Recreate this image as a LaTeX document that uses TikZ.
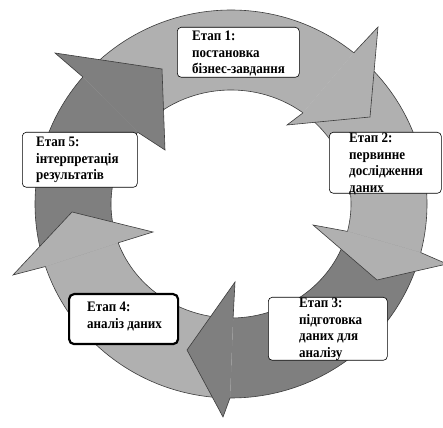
\documentclass[tikz,border=0pt]{standalone}
\usepackage{fontspec}
\setmainfont{Liberation Serif}
\newfontfamily\stagefont[FakeStretch=0.9]{Liberation Serif}
\definecolor{lightg}{RGB}{176,176,176}
\definecolor{darkg}{RGB}{127,127,127}
\definecolor{edgec}{RGB}{60,60,60}
\newcommand{\ringbody}[5]{%
  \fill[#1] (#2:196pt and 194pt) arc[start angle=#2, end angle=#3, x radius=196pt, y radius=194pt]
     -- (#5:120pt and 114pt) arc[start angle=#5, end angle=#4, x radius=120pt, y radius=114pt] -- cycle;
  \draw[edgeline] (#2:196pt and 194pt) arc[start angle=#2, end angle=#3, x radius=196pt, y radius=194pt];
  \draw[edgeline] (#4:120pt and 114pt) arc[start angle=#4, end angle=#5, x radius=120pt, y radius=114pt];
}
\begin{document}
\begin{tikzpicture}[x=1pt,y=1pt,
  edgeline/.style={draw=edgec, line width=0.6pt, line join=miter},
  stagebox/.style={draw=black, fill=white, rounded corners=4pt, line width=0.6pt, anchor=north west, inner sep=0pt},
  stagetext/.style={anchor=base west, align=left, inner sep=0pt, font=\stagefont\bfseries\fontsize{14.5}{16.5}\selectfont}]
\useasboundingbox (0,0) rectangle (443,427);
\fill[white] (0,0) rectangle (443,427);
\coordinate (C) at (231,223);
\begin{scope}[shift={(C)}]
  % notch points
  \coordinate (n1o) at (51.2:196pt and 194pt);  \coordinate (n1i) at (53.1:120pt and 114pt);
  \coordinate (n2o) at (-14.5:196pt and 194pt); \coordinate (n2i) at (-13.9:120pt and 114pt);
  \coordinate (n3o) at (-90.3:196pt and 194pt); \coordinate (n3i) at (-89:120pt and 114pt);
  \coordinate (n4o) at (-161.2:196pt and 194pt);\coordinate (n4i) at (-160.1:120pt and 114pt);
  \coordinate (n5o) at (139.1:196pt and 194pt); \coordinate (n5i) at (141:120pt and 114pt);
  % bodies: colour, outer start, outer end, inner start, inner end
  \ringbody{lightg}{139.1}{51.2}{141}{53.1}
  \ringbody{lightg}{51.2}{-14.5}{53.1}{-13.9}
  \ringbody{darkg}{-14.5}{-90.3}{-13.9}{-89}
  \ringbody{lightg}{-90.3}{-161.2}{-89}{-160.1}
  \ringbody{darkg}{-161.2}{-220.9}{-160.1}{-219}
\end{scope}
% heads
\coordinate (h1a) at (378,400); \coordinate (h1t) at (370,310); \coordinate (h1b) at (287,302);
\coordinate (h2a) at (447,163); \coordinate (h2t) at (377,147); \coordinate (h2b) at (313,202);
\coordinate (h3a) at (223,10);  \coordinate (h3t) at (187,77);  \coordinate (h3b) at (235,145);
\coordinate (h4a) at (13,152);  \coordinate (h4t) at (72,215);  \coordinate (h4b) at (153,195);
\coordinate (h5a) at (55,374);  \coordinate (h5t) at (162,358); \coordinate (h5b) at (165,277);
\foreach \i/\c in {1/lightg,2/lightg,3/darkg,4/lightg,5/darkg}{
  \fill[\c] (n\i o) -- (h\i a) -- (h\i t) -- (h\i b) -- (n\i i) -- cycle;
  \draw[edgeline] (n\i o) -- (h\i a) -- (h\i t) -- (h\i b) -- (n\i i);
}
% boxes
\node[stagebox, minimum width=122pt, minimum height=50pt] (b1) at (177,400) {};
\node[stagebox, minimum width=112pt, minimum height=61pt] (b2) at (329,295) {};
\node[stagebox, minimum width=119pt, minimum height=63pt] (b3) at (268,130) {};
\node[stagebox, minimum width=109pt, minimum height=50pt, line width=2.2pt, rounded corners=5pt] (b4) at (68,134) {};
\node[stagebox, minimum width=115pt, minimum height=55pt] (b5) at (22,295) {};
% texts (anchored at the baseline of their last line)
\node[stagetext] (t1) at (192,353) {Етап 1:\\постановка\\бізнес-завдання};
\node[stagetext] (t2) at (349,234.5) {Етап 2:\\первинне\\дослідження\\даних};
\node[stagetext] (t3) at (299,69.5) {Етап 3:\\підготовка\\даних для\\аналізу};
\node[stagetext] (t4) at (87,98.5) {Етап 4:\\аналіз даних};
\node[stagetext] (t5) at (36,247) {Етап 5:\\інтерпретація\\результатів};
\end{tikzpicture}
\end{document}
